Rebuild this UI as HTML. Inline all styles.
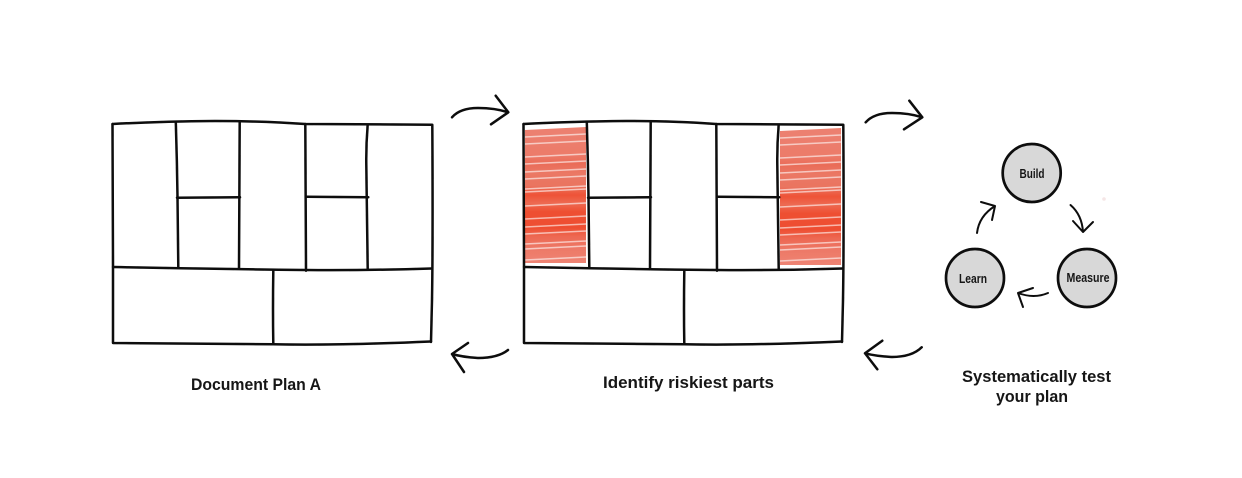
<!DOCTYPE html>
<html>
<head>
<meta charset="utf-8">
<style>
html,body{margin:0;padding:0;background:#fff;width:1242px;height:478px;overflow:hidden}
svg{display:block}
text{font-family:"Liberation Sans",sans-serif;font-weight:700;fill:#151515}
.l{fill:none;stroke:#0c0c0c;stroke-width:2.5;stroke-linecap:round;stroke-linejoin:round}
.a{fill:none;stroke:#0c0c0c;stroke-width:2.5;stroke-linecap:round;stroke-linejoin:round}
.s{stroke:#fff;stroke-opacity:.6;stroke-width:1.5;fill:none}
.c{fill:#d8d8d8;stroke:#0c0c0c;stroke-width:2.7}
</style>
</head>
<body>
<svg width="1242" height="478" viewBox="0 0 1242 478" xmlns="http://www.w3.org/2000/svg">
<defs>
<filter id="b" x="-2%" y="-2%" width="104%" height="104%"><feGaussianBlur stdDeviation="0.35"/></filter>
<linearGradient id="r" x1="0" y1="0" x2="0" y2="1">
<stop offset="0" stop-color="#ec8171"/>
<stop offset=".2" stop-color="#ec7b6a"/>
<stop offset=".27" stop-color="#ea6c58"/>
<stop offset=".34" stop-color="#eb7865"/>
<stop offset=".43" stop-color="#ea7460"/>
<stop offset=".5" stop-color="#ee5337"/>
<stop offset=".56" stop-color="#ed6a52"/>
<stop offset=".62" stop-color="#ee5033"/>
<stop offset=".74" stop-color="#ee4e31"/>
<stop offset=".8" stop-color="#ed6650"/>
<stop offset=".88" stop-color="#ed7765"/>
<stop offset="1" stop-color="#ee8474"/>
</linearGradient>
<g id="grid">
<path class="l" d="M112.5 124Q160 121.5 215 121Q265 121 305 124L432.3 124.7Q433 240 432 300L431 342"/>
<path class="l" d="M112.5 124Q112.5 200 113 267L113 343Q200 344 273 344.3Q340 345.5 431 341.5"/>
<path class="l" d="M113 267Q210 269 305 270Q370 270.5 432 268.5"/>
<path class="l" d="M175.8 122.5Q177 160 177.5 197L178.3 267.5"/>
<path class="l" d="M239.7 122L239 268.7"/>
<path class="l" d="M305.3 124L306 270.7"/>
<path class="l" d="M367.7 124.7Q366 145 366.3 165L367.7 268.7"/>
<path class="l" d="M177 197.7L240 197.3"/>
<path class="l" d="M306.7 196.8L368.3 197.3"/>
<path class="l" d="M273.3 270.7Q272.7 310 273.3 344"/>
</g>
<g id="st">
<path class="s" d="M0 0l61-3M0 7l61-3M0 20l61-3M0 27l61-3M0 35l61-3M0 42l61-3M0 52l61-3M0 55l61-3M0 69l61-3"/>
<path class="s" stroke-opacity=".22" d="M0 82l61-3M0 90l61-3M0 97l61-3M0 107l61-3"/>
<path class="s" d="M0 112l61-3M0 123l61-3"/>
</g>
</defs>

<rect x="0" y="0" width="1242" height="478" fill="#fff"/>

<g filter="url(#b)">
<use href="#grid"/>

<polygon points="525,130 586,127 586,263 525,263" fill="url(#r)"/>
<polygon points="780,131 841,128 841,265 780,265" fill="url(#r)"/>
<use href="#st" x="525" y="137"/>
<use href="#st" x="780" y="138"/>

<use href="#grid" x="411"/>

<path class="a" d="M452 117.3Q460 108 478 108Q495 108 508.3 112.3M495.7 95.7L508.3 112.3L491 124.3"/>
<path class="a" d="M865.7 122.3Q874 113 892 113Q909 113 922.3 117.3M909.3 100.7L922.3 117.3L904 129.3"/>
<path class="a" d="M508 350Q498 358 478 358Q462 357 452 354M468 343L452 354L464 372"/>
<path class="a" d="M921.7 347.3Q912 357 892 357Q875 356 865 353.3M882.3 340.7L865 353.3L877.3 369.3"/>

<circle class="c" cx="1031.7" cy="173" r="29"/>
<circle class="c" cx="975" cy="278" r="29"/>
<circle class="c" cx="1087" cy="278" r="29"/>

<path class="a" style="stroke-width:2" d="M1070.5 205Q1082 215 1083 232M1073 221L1083 232L1093 222"/>
<path class="a" style="stroke-width:2" d="M977 233Q979 216 995 206M981 202L995 206L992 220"/>
<path class="a" style="stroke-width:2" d="M1048 293Q1034 299 1018 293M1033 288L1018 293L1023 307"/>

<circle cx="1104" cy="199" r="1.8" fill="#f5e6e6"/>

<text x="1019.5" y="178" font-size="12.5" textLength="25" lengthAdjust="spacingAndGlyphs">Build</text>
<text x="959" y="283" font-size="12.5" textLength="28" lengthAdjust="spacingAndGlyphs">Learn</text>
<text x="1066.5" y="282" font-size="12.5" textLength="43" lengthAdjust="spacingAndGlyphs">Measure</text>

<text x="191" y="390" font-size="17" textLength="130" lengthAdjust="spacingAndGlyphs">Document Plan A</text>
<text x="603" y="388" font-size="17" textLength="171" lengthAdjust="spacingAndGlyphs">Identify riskiest parts</text>
<text x="962" y="382" font-size="17" textLength="149" lengthAdjust="spacingAndGlyphs">Systematically test</text>
<text x="996" y="402" font-size="17" textLength="72" lengthAdjust="spacingAndGlyphs">your plan</text>
</g>
</svg>
</body>
</html>
